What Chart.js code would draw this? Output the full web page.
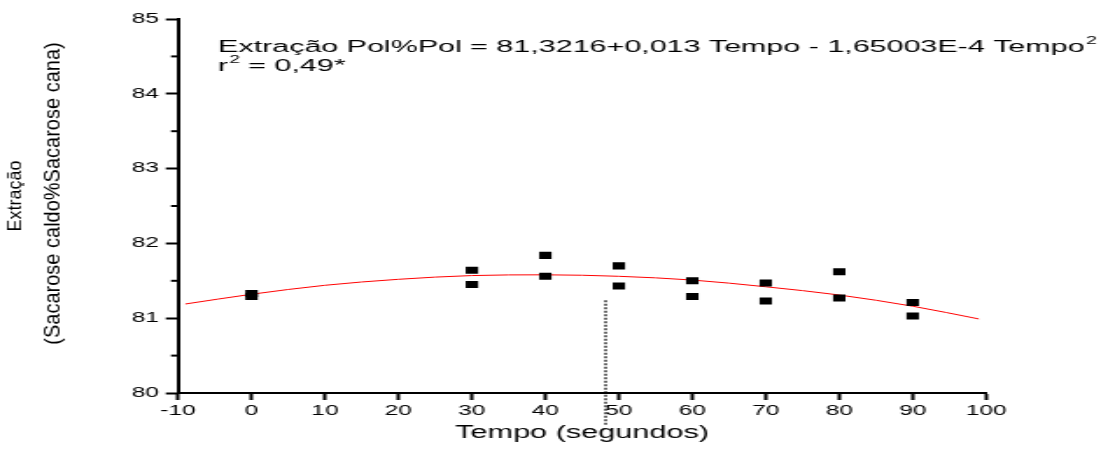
<!DOCTYPE html>
<html>
<head>
<meta charset="utf-8">
<script src="https://cdn.jsdelivr.net/npm/chart.js@4.4.0/dist/chart.umd.min.js"></script>
<style>
  html, body { margin: 0; padding: 0; background: #fff; overflow: hidden; }
  #chart { display: block; }
</style>
</head>
<body>
<!-- drawn narrow and stretched sideways, like the reference image -->
<canvas id="chart" width="629" height="449" style="width:1101px;height:449px"></canvas>
<script>
// observed points (two replicates per time)
const tempo = [0, 0, 30, 30, 40, 40, 50, 50, 60, 60, 70, 70, 80, 80, 90, 90];
const extracao = [81.33, 81.29, 81.64, 81.45, 81.84, 81.56, 81.70, 81.43,
                  81.50, 81.29, 81.47, 81.23, 81.62, 81.27, 81.21, 81.03];

// fitted curve
const fitX = [-9, 0, 10, 20, 30, 40, 50, 60, 70, 80, 90, 99];
const fitY = [81.19, 81.32, 81.44, 81.52, 81.57, 81.58, 81.56, 81.51, 81.42, 81.31, 81.16, 80.99];

// dotted marker line
const markX = [48.2, 48.2];
const markY = [81.24, 79.57];

const xTicks = { min: -10, max: 100, step: 10 };
const yTicks = { min: 80, max: 85, step: 1 };
const yMinor = [80.5, 81.5, 82.5, 83.5, 84.5];

const eqText = 'Extração Pol%Pol = 81,3216+0,013 Tempo - 1,65003E-4 Tempo';
const r2Text = ' = 0,49*';
const yTitle1 = 'Extração';
const yTitle2 = '(Sacarose caldo%Sacarose cana)';
const xTitle = 'Tempo (segundos)';

const FONT = '"Liberation Sans", Arial, sans-serif';

const extras = {
  id: 'extras',
  afterDraw(chart) {
    const ctx = chart.ctx;
    const yScale = chart.scales.y;
    const left = chart.chartArea.left;
    ctx.save();
    ctx.strokeStyle = '#000';
    ctx.lineWidth = 2;
    // minor ticks on y
    yMinor.forEach(v => {
      const py = yScale.getPixelForValue(v);
      ctx.beginPath();
      ctx.moveTo(left, py);
      ctx.lineTo(left - 4, py);
      ctx.stroke();
    });

    // equation
    ctx.fillStyle = '#000';
    ctx.textBaseline = 'alphabetic';
    ctx.textAlign = 'left';
    const ex = 124.6;
    ctx.font = '17.4px ' + FONT;
    ctx.fillText(eqText, ex, 52);
    const w = ctx.measureText(eqText).width;
    ctx.font = '11px ' + FONT;
    ctx.fillText('2', ex + w + 1, 44);
    ctx.font = '17.4px ' + FONT;
    ctx.fillText('r', ex, 71);
    const rw = ctx.measureText('r').width;
    ctx.font = '11px ' + FONT;
    ctx.fillText('2', ex + rw + 0.5, 63);
    const sw = ctx.measureText('2').width;
    ctx.font = '17.4px ' + FONT;
    ctx.fillText(r2Text, ex + rw + sw + 0.5, 71);

    // rotated y title (two lines)
    ctx.textAlign = 'center';
    ctx.textBaseline = 'middle';
    ctx.save();
    ctx.translate(8.9, 196);
    ctx.rotate(-Math.PI / 2);
    ctx.scale(1, 0.6);
    ctx.font = '18px ' + FONT;
    ctx.fillText(yTitle1, 0, 0);
    ctx.restore();
    ctx.save();
    ctx.translate(30.6, 193.5);
    ctx.rotate(-Math.PI / 2);
    ctx.scale(1, 0.6);
    ctx.font = '20px ' + FONT;
    ctx.fillText(yTitle2, 0, 0);
    ctx.restore();

    ctx.restore();
  }
};

new Chart(document.getElementById('chart'), {
  type: 'scatter',
  data: {
    datasets: [
      {
        label: 'Observado',
        data: tempo.map((t, i) => ({ x: t, y: extracao[i] })),
        pointStyle: 'rect',
        pointRadius: 5,
        backgroundColor: '#000',
        borderColor: '#000',
        borderWidth: 0
      },
      {
        type: 'line',
        label: 'Ajuste',
        data: fitX.map((t, i) => ({ x: t, y: fitY[i] })),
        borderColor: '#ff0000',
        borderWidth: 1,
        pointRadius: 0,
        cubicInterpolationMode: 'monotone',
        fill: false
      },
      {
        type: 'line',
        label: 'Marca',
        data: markX.map((t, i) => ({ x: t, y: markY[i] })),
        borderColor: '#000',
        borderWidth: 1.2,
        borderDash: [2, 1.5],
        pointRadius: 0,
        clip: false,
        fill: false
      }
    ]
  },
  options: {
    responsive: false,
    devicePixelRatio: 1,
    animation: false,
    layout: { padding: { left: 0, right: 65.6, top: 19, bottom: 0 } },
    plugins: {
      legend: { display: false },
      tooltip: { enabled: false }
    },
    scales: {
      x: {
        type: 'linear',
        min: xTicks.min,
        max: xTicks.max,
        afterFit: s => { s.height = 56; },
        border: { display: true, color: '#000', width: 2 },
        grid: { display: true, drawOnChartArea: false, drawTicks: true, tickLength: 7, tickWidth: 2, tickColor: '#000' },
        ticks: { stepSize: xTicks.step, color: '#000', font: { family: FONT, size: 14 }, padding: 3, maxRotation: 0 },
        title: { display: true, text: xTitle, color: '#000', font: { family: FONT, size: 17.5 }, padding: { top: 0, bottom: 5 } }
      },
      y: {
        type: 'linear',
        min: yTicks.min,
        max: yTicks.max,
        afterFit: s => { s.width = 101.7; },
        border: { display: true, color: '#000', width: 2 },
        grid: { display: true, drawOnChartArea: false, drawTicks: true, tickLength: 7, tickWidth: 2, tickColor: '#000' },
        ticks: { stepSize: yTicks.step, color: '#000', font: { family: FONT, size: 14 }, padding: 4 }
      }
    }
  },
  plugins: [extras]
});
</script>
</body>
</html>
